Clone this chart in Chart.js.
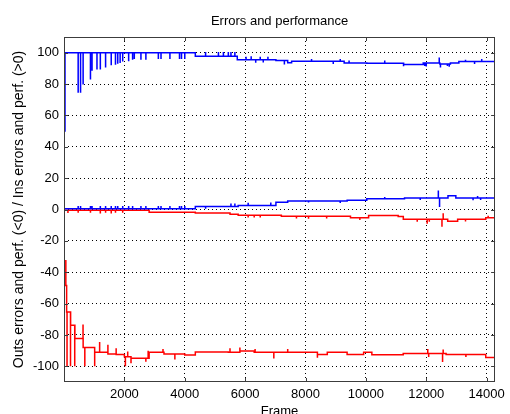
<!DOCTYPE html>
<html>
<head>
<meta charset="utf-8">
<script src="https://cdn.jsdelivr.net/npm/chart.js@4.4.0/dist/chart.umd.min.js"></script>
<style>
  body { margin: 0; background: #fff; }
  canvas { display: block; }
</style>
</head>
<body>
<canvas id="myChart" width="510" height="414"></canvas>
<script>
var xTicks = [2000, 4000, 6000, 8000, 10000, 12000, 14000];
var yTicks = [-100, -80, -60, -40, -20, 0, 20, 40, 60, 80, 100];
var lastFrame = 14280;

// ins performance (blue, top): level changes [frame, value] and one-frame spikes
var perfInsSteps = [[0, 50], [33, 100], [4350, 97.7], [5740, 95.5], [7020, 95], [7410, 93.6], [7540, 94.6],
  [8030, 94.5], [9280, 93.5], [10030, 93.2], [11250, 92.5], [11900, 93.5], [12450, 92.8], [12800, 93.5], [13080, 94.3]];
var perfInsSpikes = [[469, 74.9], [548, 75], [633, 80.2], [876, 83.3], [928, 89], [1092, 89.7], [1203, 89.7],
  [1377, 91.1], [1564, 92.4], [1705, 92.8], [1780, 93.5], [1859, 93.9], [1944, 94.9], [2141, 95], [2272, 96],
  [2328, 96.4], [2548, 96], [2712, 96], [3125, 96.5], [3213, 96.5], [3508, 96.5], [3826, 96.5], [3892, 96.5],
  [4000, 96.5], [4690, 100], [5115, 100], [5280, 100], [5443, 100], [5530, 100], [5660, 100], [6030, 97],
  [6200, 97.2], [6350, 94], [6500, 97], [6600, 94.2], [6755, 97], [7300, 93], [8200, 95.5], [8919, 93.2],
  [9150, 95.5], [9443, 94.5], [10624, 94.5], [11247, 91.8], [11950, 92], [12000, 91.6], [12430, 96.5],
  [12470, 91], [12700, 92], [12760, 91.5], [13300, 95], [13600, 93.2], [13837, 95.5]];

// ins errors (blue, near zero)
var errInsSteps = [[0, 0.4], [4350, 1.9], [5770, 2.6], [7020, 4.6], [7410, 5.4], [9380, 5.9], [10030, 6.8],
  [11280, 7.4], [12720, 8.8], [12980, 7.4]];
var errInsSpikes = [[469, 1.8], [548, 1.8], [876, 1.8], [928, 1.8], [1203, 1.8], [1377, 1.8], [1564, 1.8],
  [1705, 1.8], [1780, 1.8], [1944, 1.8], [2141, 1.8], [2272, 1.8], [2548, 1.8], [2712, 1.8], [3125, 1.8],
  [3213, 1.8], [3508, 1.8], [3826, 1.8], [3892, 1.8], [4000, 1.8], [4690, 1], [5530, 3.3], [5660, 3.3],
  [6100, 3.8], [6850, 4], [8100, 5], [9150, 4.6], [10624, 7.5], [11800, 6.6], [12400, 11.6], [12440, 2.1],
  [13550, 6.4], [13700, 8.2], [13800, 6.6]];

// outs errors (red, near zero, negative)
var errOutsSteps = [[0, -0.4], [2820, -1.7], [4350, -2.3], [5500, -3], [5770, -3.6], [7200, -4.3], [9490, -5.2],
  [10090, -3.9], [11070, -4.5], [11240, -6.2], [12710, -7.5], [13040, -6.2], [13970, -5.3]];
var errOutsSpikes = [[130, -1.8], [469, -1.6], [876, -1.6], [1203, -2], [1377, -1.6], [1564, -2], [1705, -1.6],
  [1944, -1.6], [6100, -4.6], [6300, -4.6], [6500, -4.6], [7700, -5.2], [8100, -5.4], [8700, -5.2], [9800, -6.2],
  [11700, -7.3], [12030, -8.6], [12100, -7.4], [12520, -10.5], [12560, -2.8], [13300, -7.2], [14050, -4.5]];

// outs performance (red, near -100)
var perfOutsSteps = [[0, -48.5], [87, -65.4], [219, -73.8], [361, -82.3], [634, -88], [1016, -91.1],
  [1454, -92.2], [1727, -92.5], [2000, -93.9], [2219, -94.9], [2820, -91.1], [3312, -92.2], [4000, -92.8],
  [4350, -90.8], [5443, -91.1], [5826, -90.2], [6300, -91.1], [8394, -92.4], [8722, -91.1], [9378, -92.4],
  [9925, -91.1], [10198, -92.7], [11237, -91.8], [12657, -92.4], [13970, -94.3]];
var perfOutsSpikes = [[60, -32.7], [100, -99.5], [215, -99.5], [355, -99.5], [630, -73.8], [689, -99.5],
  [1016, -99.5], [1180, -85], [1454, -86.7], [1727, -89], [2033, -99.5], [2110, -91], [2219, -97.5],
  [2711, -96.6], [2787, -90.5], [3279, -89.5], [3672, -95.2], [5498, -89], [5826, -88.5], [6330, -89.5],
  [6950, -94.5], [7410, -89.5], [8394, -94], [12050, -89.5], [12080, -93.5], [12540, -96.8], [12560, -89.8],
  [13313, -93.5]];

function buildLine(steps, spikes) {
  var events = [];
  steps.forEach(function (s) { events.push({ x: s[0], y: s[1], spike: false }); });
  spikes.forEach(function (s) { events.push({ x: s[0], y: s[1], spike: true }); });
  events.sort(function (a, b) { return a.x - b.x; });
  var pts = [];
  var level = steps[0][1];
  events.forEach(function (e) {
    if (e.spike) {
      pts.push({ x: e.x, y: e.y });
      pts.push({ x: e.x + 1, y: level });
    } else {
      level = e.y;
      pts.push({ x: e.x, y: e.y });
    }
  });
  pts.push({ x: lastFrame, y: level });
  return pts;
}

// box round the axes plus matlab style inward ticks
var boxTicks = {
  id: "boxTicks",
  afterDatasetsDraw: function (chart) {
    var ctx = chart.ctx, a = chart.chartArea;
    var xs = chart.scales.x, ys = chart.scales.y;
    var len = 4;
    ctx.save();
    ctx.strokeStyle = "#3c3c3c";
    ctx.lineWidth = 1;
    ctx.beginPath();
    xTicks.forEach(function (v) {
      var px = Math.round(xs.getPixelForValue(v)) + 0.5;
      ctx.moveTo(px, a.bottom); ctx.lineTo(px, a.bottom - len);
      ctx.moveTo(px, a.top); ctx.lineTo(px, a.top + len);
    });
    yTicks.forEach(function (v) {
      var py = Math.round(ys.getPixelForValue(v)) + 0.5;
      ctx.moveTo(a.left, py); ctx.lineTo(a.left + len, py);
      ctx.moveTo(a.right, py); ctx.lineTo(a.right - len, py);
    });
    ctx.stroke();
    ctx.strokeRect(Math.round(a.left) + 0.5, Math.round(a.top) + 0.5,
      Math.round(a.right - a.left) - 1, Math.round(a.bottom - a.top) - 1);
    ctx.restore();
  }
};

Chart.defaults.font.family = "'Liberation Sans', Arial, sans-serif";
Chart.defaults.font.size = 13;
Chart.defaults.color = "#000";

var ds = function (data, color) {
  return { data: data, borderColor: color, backgroundColor: color, borderWidth: 1.5,
    pointRadius: 0, tension: 0, stepped: true, fill: false };
};

var ctx = document.getElementById("myChart").getContext("2d");
var myChart = new Chart(ctx, {
  type: "line",
  data: {
    datasets: [
      ds(buildLine(perfInsSteps, perfInsSpikes), "#0000ff"),
      ds(buildLine(errInsSteps, errInsSpikes), "#0000ff"),
      ds(buildLine(errOutsSteps, errOutsSpikes), "#ff0000"),
      ds(buildLine(perfOutsSteps, perfOutsSpikes), "#ff0000")
    ]
  },
  options: {
    responsive: false,
    animation: false,
    layout: { padding: { left: 0, right: 9, top: 0, bottom: 0 } },
    plugins: {
      legend: { display: false },
      tooltip: { enabled: false },
      title: {
        display: true,
        fullSize: false,
        text: "Errors and performance",
        font: { size: 13, weight: "normal" },
        padding: { top: 13.7, bottom: 7.7 }
      }
    },
    scales: {
      x: {
        type: "linear",
        min: 0,
        max: lastFrame,
        afterBuildTicks: function (s) { s.ticks = xTicks.map(function (v) { return { value: v }; }); },
        afterFit: function (s) { s.height = 32; },
        grid: { color: "#000", lineWidth: 1, drawTicks: false },
        border: { display: false, dash: [1, 3] },
        ticks: { padding: 5, maxRotation: 0, autoSkip: false, callback: function (v) { return String(v); } },
        title: { display: true, text: "Frame", font: { size: 13 }, padding: { top: 0, bottom: -5.3 } }
      },
      y: {
        min: -110,
        max: 110,
        afterBuildTicks: function (s) { s.ticks = yTicks.map(function (v) { return { value: v }; }); },
        afterFit: function (s) { s.width = 64; },
        grid: { color: "#000", lineWidth: 1, drawTicks: false },
        border: { display: false, dash: [1, 3] },
        ticks: { padding: 5, autoSkip: false, callback: function (v) { return String(v); } },
        title: { display: true, text: "Outs errors and perf. (<0) / Ins errors and perf. (>0)",
          font: { size: 14 }, padding: { top: 11, bottom: 0 } }
      }
    }
  },
  plugins: [boxTicks]
});
</script>
</body>
</html>
